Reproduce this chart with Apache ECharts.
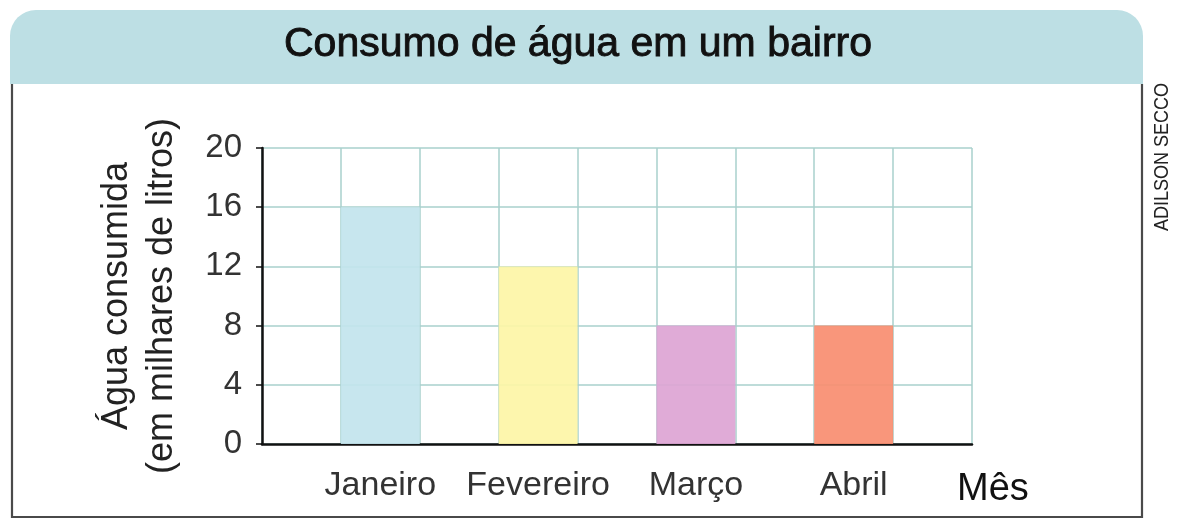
<!DOCTYPE html>
<html><head><meta charset="utf-8">
<script src="https://cdn.jsdelivr.net/npm/echarts@6/dist/echarts.min.js"></script>
<style>html,body{margin:0;padding:0;background:#fff}#c{width:1177px;height:529px}</style>
</head><body><div id="c"></div>
<script>
const titleText = 'Consumo de água em um bairro';
const months = ['Janeiro', 'Fevereiro', 'Março', 'Abril'];
const consumo = [16, 12, 8, 8];
const barColors = ['#c2e4ed', '#fdf5a6', '#dda4d4', '#f98d70'];
const yTicks = [0, 4, 8, 12, 16, 20];
const yName = 'Água consumida\n(em milhares de litros)';
const xName = 'Mês';
const credit = 'ADILSON SECCO';

// Layout: 9 equal columns — a blank column before each month and one at the end
const cats = [''];
const vals = ['-'];
months.forEach((m, i) => {
  cats.push(m);
  vals.push({ value: consumo[i], itemStyle: { color: barColors[i] } });
  cats.push('');
  vals.push('-');
});

const FONT = '"Liberation Sans", Arial, Helvetica, sans-serif';
const chart = echarts.init(document.getElementById('c'), null, { renderer: 'canvas' });
chart.setOption({
  backgroundColor: '#ffffff',
  animation: false,
  title: {
    text: titleText,
    left: 578, top: 45, padding: 0,
    textAlign: 'center', textVerticalAlign: 'middle',
    textStyle: { fontFamily: FONT, fontSize: 41, fontWeight: 'normal', color: '#111',
      textBorderColor: '#111', textBorderWidth: 0.9 }
  },
  graphic: [
    { type: 'rect', z: 0, shape: { x: 10, y: 10, width: 1133, height: 74, r: [26, 26, 0, 0] },
      style: { fill: '#bddfe4' } },
    { type: 'polyline', z: 0, shape: { points: [[12, 84], [12, 517], [1142, 517], [1142, 84]] },
      style: { stroke: '#4a4a4a', lineWidth: 2.2, fill: null } },
    { type: 'text', z: 1, x: 1162, y: 157, rotation: Math.PI / 2, scaleX: 0.9,
      style: { text: credit, fontFamily: FONT,
        fontSize: 20, fill: '#222', align: 'center', verticalAlign: 'middle' } }
  ],
  grid: { left: 262, right: 205, top: 148, bottom: 85, containLabel: false },
  xAxis: {
    type: 'category',
    data: cats,
    boundaryGap: true,
    name: xName,
    nameLocation: 'end',
    nameGap: -15,
    nameTextStyle: { fontFamily: FONT, fontSize: 38, color: '#111', align: 'left',
      verticalAlign: 'top', lineHeight: 38, padding: [27, 0, 0, 0] },
    axisLine: { show: true, lineStyle: { color: '#111', width: 2.5 } },
    axisTick: { show: false },
    axisLabel: { fontFamily: FONT, fontSize: 34, color: '#333', margin: 25, interval: 0 },
    splitLine: { show: true, interval: 0, lineStyle: { color: '#a9d0cc', width: 1.5 } }
  },
  yAxis: {
    type: 'value',
    min: yTicks[0], max: yTicks[yTicks.length - 1], interval: yTicks[1] - yTicks[0],
    name: yName,
    nameLocation: 'middle',
    nameRotate: 90,
    nameGap: 77,
    nameTextStyle: { fontFamily: FONT, fontSize: 36, color: '#222', lineHeight: 45 },
    axisLine: { show: true, lineStyle: { color: '#111', width: 2.5 } },
    axisTick: { show: true, length: 6, lineStyle: { color: '#111', width: 1.5 } },
    axisLabel: { fontFamily: FONT, fontSize: 33, color: '#333', margin: 20 },
    splitLine: { show: true, lineStyle: { color: '#a9d0cc', width: 1.5 } }
  },
  series: [{
    type: 'bar',
    data: vals,
    barWidth: '100%',
    itemStyle: { opacity: 0.92 },
    z: 1
  }]
});
</script></body></html>
